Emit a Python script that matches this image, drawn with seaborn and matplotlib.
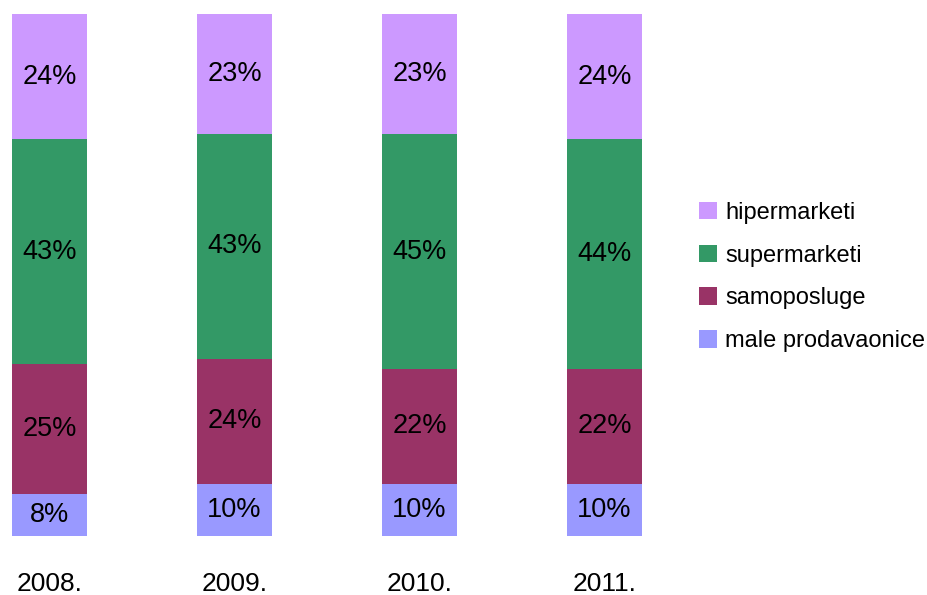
import numpy as np
import pandas as pd
import seaborn as sns
import matplotlib.pyplot as plt
from matplotlib.patches import Patch

years = ['2008.', '2009.', '2010.', '2011.']
male_prodavaonice = [8, 10, 10, 10]
samoposluge = [25, 24, 22, 22]
supermarketi = [43, 43, 45, 44]
hipermarketi = [24, 23, 23, 24]

series = ['male prodavaonice', 'samoposluge', 'supermarketi', 'hipermarketi']
colors = {'male prodavaonice': '#9999FF', 'samoposluge': '#993366',
          'supermarketi': '#339966', 'hipermarketi': '#CC99FF'}

df = pd.DataFrame({'godina': years,
                   'male prodavaonice': male_prodavaonice,
                   'samoposluge': samoposluge,
                   'supermarketi': supermarketi,
                   'hipermarketi': hipermarketi})

sns.set_style('white')
plt.rcParams['font.family'] = ['Liberation Sans', 'DejaVu Sans']
plt.rcParams['text.color'] = 'black'
plt.rcParams['xtick.color'] = 'black'

fig = plt.figure(figsize=(9.27, 5.95), dpi=100)
x0 = 49.5 / 185
ax = fig.add_axes([0, 59 / 595, 660 / 927, 522 / 595])

# stacked bars: draw cumulative totals from the top layer down
cum = df[series].cumsum(axis=1)
for s in reversed(series):
    sns.barplot(x=df['godina'], y=cum[s], color=colors[s], width=75 / 185,
                saturation=1, ax=ax, linewidth=0)

# segment labels
for i in range(len(years)):
    bottom = 0
    for s in series:
        v = df[s][i]
        ax.text(i, bottom + v / 2, f'{v}%', ha='center', va='center',
                fontsize=19.5, color='black')
        bottom += v

ax.set_xlim(-x0, -x0 + 660 / 185)
ax.set_ylim(0, 100)
ax.set_xlabel('')
ax.set_ylabel('')
ax.set_yticks([])
ax.tick_params(axis='x', length=0, pad=26, labelsize=19, labelcolor='black')
sns.despine(ax=ax, left=True, bottom=True)

handles = [Patch(facecolor=colors[s], edgecolor='none') for s in reversed(series)]
fig.legend(handles, list(reversed(series)), loc='center left',
           bbox_to_anchor=(699 / 927, 1 - 277 / 595), frameon=False,
           fontsize=17, handlelength=0.76, handleheight=0.76,
           handletextpad=0.34, labelspacing=0.88, borderpad=0,
           borderaxespad=0, labelcolor='black')

fig.savefig('out.png', dpi=100)
